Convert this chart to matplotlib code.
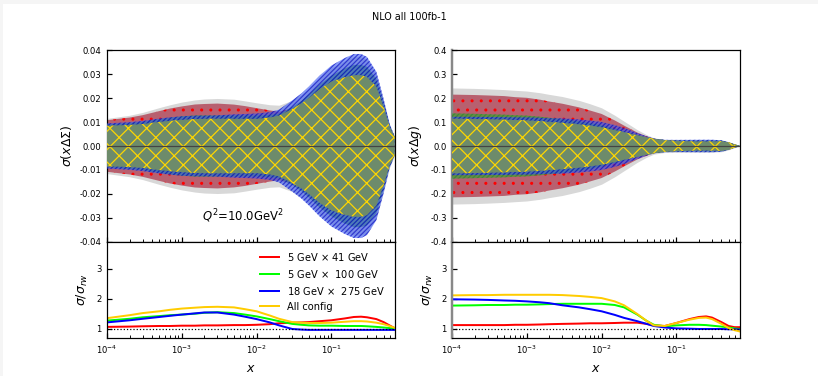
import numpy as np
import matplotlib
matplotlib.use('Agg')
from matplotlib import pyplot as plt
from matplotlib.patches import Rectangle

# x grid shared by all curves
x = [1e-4, 2e-4, 3e-4, 5e-4, 7e-4, 1e-3, 1.5e-3, 2e-3, 3e-3, 5e-3, 7e-3,
     1e-2, 1.5e-2, 2e-2, 3e-2, 4e-2, 5e-2, 7e-2, 0.1, 0.15, 0.2, 0.25,
     0.3, 0.4, 0.5, 0.6, 0.7]

# baseline uncertainty (before reweighting)
sig_dsigma = [0.0115, 0.0128, 0.0140, 0.0160, 0.0172, 0.0183, 0.0192, 0.0196,
              0.0198, 0.0195, 0.0188, 0.0180, 0.0172, 0.0170, 0.0190, 0.0215,
              0.0240, 0.0285, 0.0325, 0.0355, 0.0372, 0.0372, 0.0360, 0.0300,
              0.0190, 0.0090, 0.0040]
sig_dg = [0.242, 0.240, 0.238, 0.235, 0.232, 0.229, 0.222, 0.215, 0.206, 0.190,
          0.176, 0.159, 0.128, 0.103, 0.068, 0.047, 0.034, 0.027, 0.026, 0.026,
          0.026, 0.026, 0.026, 0.024, 0.016, 0.007, 0.001]

# sigma / sigma_rw for each collider configuration
ratio_dsigma = {
    '5x41': [1.07, 1.08, 1.09, 1.10, 1.10, 1.11, 1.11, 1.12, 1.12, 1.13, 1.13,
             1.14, 1.16, 1.19, 1.21, 1.22, 1.23, 1.26, 1.29, 1.35, 1.40, 1.41,
             1.39, 1.33, 1.23, 1.12, 1.03],
    '5x100': [1.28, 1.34, 1.39, 1.43, 1.46, 1.48, 1.51, 1.54, 1.56, 1.53, 1.48,
              1.42, 1.33, 1.26, 1.17, 1.14, 1.12, 1.11, 1.11, 1.10, 1.10, 1.10,
              1.09, 1.07, 1.05, 1.03, 1.01],
    '18x275': [1.22, 1.29, 1.34, 1.40, 1.44, 1.48, 1.52, 1.55, 1.55, 1.48, 1.41,
               1.33, 1.22, 1.12, 1.00, 0.98, 0.97, 0.97, 0.97, 0.97, 0.97, 0.97,
               0.97, 0.97, 0.97, 0.97, 0.97],
    'all': [1.36, 1.46, 1.53, 1.59, 1.64, 1.68, 1.71, 1.73, 1.74, 1.72, 1.66,
            1.59, 1.45, 1.34, 1.23, 1.21, 1.20, 1.20, 1.21, 1.24, 1.26, 1.26,
            1.25, 1.21, 1.16, 1.10, 1.04],
}
ratio_dg = {
    '5x41': [1.13, 1.13, 1.13, 1.13, 1.14, 1.14, 1.15, 1.16, 1.17, 1.18, 1.19,
             1.19, 1.20, 1.21, 1.21, 1.17, 1.12, 1.10, 1.20, 1.33, 1.40, 1.42,
             1.38, 1.23, 1.10, 1.06, 1.06],
    '5x100': [1.78, 1.79, 1.80, 1.80, 1.81, 1.81, 1.82, 1.83, 1.84, 1.84, 1.84,
              1.84, 1.80, 1.72, 1.48, 1.27, 1.14, 1.09, 1.12, 1.14, 1.14, 1.13,
              1.11, 1.08, 1.05, 1.02, 1.00],
    '18x275': [1.99, 1.98, 1.97, 1.95, 1.94, 1.92, 1.89, 1.86, 1.79, 1.72, 1.66,
               1.59, 1.47, 1.37, 1.26, 1.17, 1.10, 1.05, 1.02, 1.01, 1.00, 1.00,
               1.00, 1.00, 0.99, 0.99, 0.98],
    'all': [2.12, 2.13, 2.13, 2.14, 2.14, 2.14, 2.14, 2.14, 2.13, 2.10, 2.07,
            2.03, 1.92, 1.79, 1.50, 1.27, 1.12, 1.10, 1.20, 1.31, 1.37, 1.38,
            1.33, 1.17, 1.03, 0.96, 0.92],
}

labels = {'5x41': r'5 GeV $\times$ 41 GeV',
          '5x100': r'5 GeV $\times$  100 GeV',
          '18x275': r'18 GeV $\times$  275 GeV',
          'all': 'All config'}
line_colors = {'5x41': 'red', '5x100': 'lime', '18x275': 'blue', 'all': '#ffcc00'}

# face, hatch, hatch colour, alpha
band_style = {'5x41': ('#b8606f', '..', 'red', 1.0),
              '5x100': ('#4a9a3a', '////////', '#2f8a2f', 0.75),
              '18x275': ('#3a5cf5', '////////', '#0000bb', 0.6),
              'all': ('#6d8b6b', 'xx', '#ffd700', 1.0)}

plt.rcParams['hatch.linewidth'] = 0.8
plt.rcParams['font.size'] = 6

fig = plt.figure(figsize=(818 / 110, 376 / 110), dpi=110)
fig.patches.append(Rectangle((0, 1 - 4 / 376), 1, 4 / 376, transform=fig.transFigure,
                             color='#f5f5f5', lw=0, zorder=-1))
fig.patches.append(Rectangle((0, 0), 3 / 818, 1, transform=fig.transFigure,
                             color='#f5f5f5', lw=0, zorder=-1))

xs = np.array(x)


def draw_panel(x0, base, ratios, ylim, yticks, ylabel, legend):
    top = fig.add_axes([x0, 0.3564, 0.3515, 0.5106])
    bot = fig.add_axes([x0, 0.1011, 0.3515, 0.2553], sharex=top)
    base = np.array(base)

    top.fill_between(xs, -base, base, color='#d8d8d8', lw=0, zorder=1)
    for z, key in enumerate(['5x41', '5x100', '18x275', 'all']):
        face, hatch, hcol, a = band_style[key]
        w = base / np.array(ratios[key])
        top.fill_between(xs, -w, w, facecolor=face, edgecolor=hcol, hatch=hatch,
                         lw=0, alpha=a, zorder=2 + z)
    top.axhline(0, color='#444444', lw=0.8, zorder=10)

    top.set_xscale('log')
    top.set_xlim(1e-4, 0.7)
    top.set_ylim(*ylim)
    top.set_yticks(yticks)
    top.set_yticklabels(['%.2f' % t if ylim[1] < 0.1 else '%.1f' % t for t in yticks])
    top.set_ylabel(ylabel, fontsize=8.2)
    top.tick_params(axis='both', which='both', direction='in', labelsize=5.6)
    top.tick_params(axis='x', labelbottom=False)

    for key in ['5x41', '5x100', '18x275', 'all']:
        bot.plot(xs, ratios[key], color=line_colors[key], lw=1.3, label=labels[key])
    bot.axhline(1, color='k', ls=':', lw=0.8)
    bot.set_ylim(0.7, 3.9)
    bot.set_yticks([1, 2, 3])
    bot.set_ylabel(r'$\sigma/\sigma_{rw}$', fontsize=8.2)
    bot.set_xlabel(r'$x$', fontsize=8.2)
    bot.tick_params(axis='both', which='both', direction='in', labelsize=5.6)
    if legend:
        bot.legend(loc='upper right', frameon=False, fontsize=6.5)
    return top, bot


top_l, bot_l = draw_panel(0.1308, sig_dsigma, ratio_dsigma, (-0.04, 0.04),
                          [-0.04, -0.03, -0.02, -0.01, 0.0, 0.01, 0.02, 0.03, 0.04],
                          r'$\sigma(x\Delta\Sigma)$', True)
top_l.text(0.33, 0.11, r'$Q^2$=10.0GeV$^2$', transform=top_l.transAxes, fontsize=7.6)

top_r, bot_r = draw_panel(0.5526, sig_dg, ratio_dg, (-0.4, 0.4),
                          [-0.4, -0.3, -0.2, -0.1, 0.0, 0.1, 0.2, 0.3, 0.4],
                          r'$\sigma(x\Delta g)$', False)
for ax in (top_r, bot_r):
    ax.spines['left'].set_color('#888888')
    ax.spines['left'].set_linewidth(1.6)

fig.text(0.5, 0.955, 'NLO all 100fb-1', ha='center', va='center', fontsize=6.3)

fig.savefig('out.png', dpi=110)
